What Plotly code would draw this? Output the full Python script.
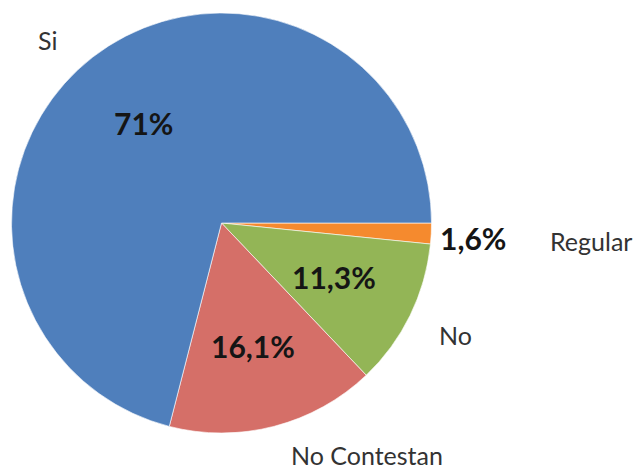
import plotly.graph_objects as go

# Data
labels = ["Regular", "No", "No Contestan", "Si"]
values = [1.6, 11.3, 16.1, 71]
colors = ["#F58A2E", "#93B556", "#D56F68", "#4F7FBC"]

W, H = 638, 472

def pct(v):
    return f"{v:g}".replace(".", ",") + "%"

fig = go.Figure(go.Pie(
    labels=labels,
    values=values,
    sort=False,
    direction="clockwise",
    rotation=90,
    marker=dict(colors=colors, line=dict(color="rgba(255,255,255,0.6)", width=1)),
    textinfo="none",
    hoverinfo="skip",
    showlegend=False,
    domain=dict(x=[11.5 / W, 431.5 / W], y=[1 - 433 / H, 1 - 13 / H]),
))

# label placement (pixels): percentage position, category label position
pct_pos = {"Regular": (473, 238), "No": (334, 277), "No Contestan": (253, 346), "Si": (143, 123)}
lab_pos = {"Regular": (591, 241), "No": (455, 335), "No Contestan": (367, 455), "Si": (47, 40)}

annotations = []
for lab, val in zip(labels, values):
    px, py = pct_pos[lab]
    annotations.append(dict(
        x=px / W, y=1 - py / H, xref="paper", yref="paper",
        text="<b>" + pct(val) + "</b>", showarrow=False,
        xanchor="center", yanchor="middle",
        font=dict(family="Lato", size=30, color="#151515"),
    ))
    lx, ly = lab_pos[lab]
    annotations.append(dict(
        x=lx / W, y=1 - ly / H, xref="paper", yref="paper",
        text=lab, showarrow=False,
        xanchor="center", yanchor="middle",
        font=dict(family="Lato", size=25, color="#333333"),
    ))

fig.update_layout(
    width=W, height=H,
    margin=dict(l=0, r=0, t=0, b=0),
    paper_bgcolor="white",
    plot_bgcolor="white",
    annotations=annotations,
)

fig.write_html("out.html")
